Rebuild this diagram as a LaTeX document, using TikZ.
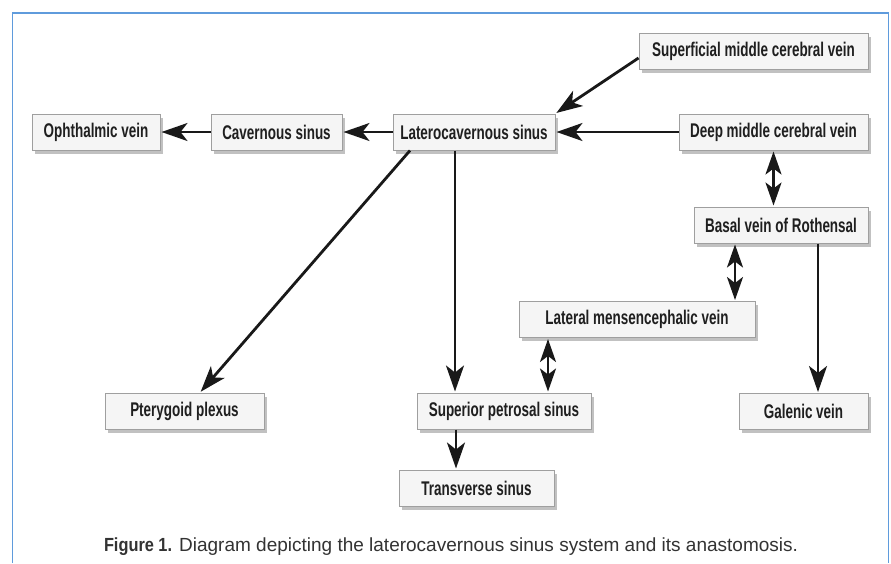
\documentclass[tikz,border=0pt]{standalone}
\usepackage{fontspec}
\setmainfont{Liberation Sans}
\newfontfamily\boxfont{Liberation Sans}[FakeStretch=0.68]
\newfontfamily\capbold{Liberation Sans}[FakeStretch=0.86]
\usetikzlibrary{arrows.meta,shadows,calc}
\definecolor{frameblue}{RGB}{95,155,220}
\tikzset{
  vbox/.style={draw=gray!75, line width=1pt, inner sep=0pt,
    left color=gray!8, middle color=gray!40, right color=gray!8,
    minimum height=36pt, text=black!88,
    font=\boxfont\bfseries\fontsize{19.8}{22}\selectfont,
    drop shadow={shadow xshift=3pt, shadow yshift=-3.5pt, fill=gray!80, opacity=0.6}},
  flow/.style={line width=2.8pt, draw=black!90,
    -{Stealth[length=26pt,width=18pt,inset=7pt]}},
  both/.style={line width=2.6pt, draw=black!90,
    {Stealth[length=23pt,width=16pt,inset=6pt]}-{Stealth[length=23pt,width=16pt,inset=6pt]}}
}
\begin{document}
\begin{tikzpicture}[x=1pt,y=-1pt]
\useasboundingbox (0,0) rectangle (891,563);
\fill[white] (0,0) rectangle (891,563);
\draw[frameblue, line width=1.4pt] (12.5,563) -- (12.5,13) -- (888.5,13) -- (888.5,563);

\node[vbox, minimum width=128pt] (oph) at (96,132) {Ophthalmic vein};
\node[vbox, minimum width=131pt] (cav) at (276.5,132) {Cavernous sinus};
\node[vbox, minimum width=162pt] (lat) at (474,132) {Laterocavernous sinus};
\node[vbox, minimum width=229pt] (smcv) at (753.5,51) {Superficial middle cerebral vein};
\node[vbox, minimum width=189pt] (dmcv) at (773.5,132) {Deep middle cerebral vein};
\node[vbox, minimum width=174pt] (basal) at (781,225) {Basal vein of Rothensal};
\node[vbox, minimum width=236pt] (lmv) at (637,319.5) {Lateral mensencephalic vein};
\node[vbox, minimum width=174pt] (sps) at (504,411) {Superior petrosal sinus};
\node[vbox, minimum width=155pt] (trans) at (476.5,488) {Transverse sinus};
\node[vbox, minimum width=159pt] (ptery) at (184.5,411) {Pterygoid plexus};
\node[vbox, minimum width=129pt] (gal) at (803.5,411.5) {Galenic vein};

\node[text=black!80, font=\fontsize{19}{22}\selectfont] (cap) at (451,547)
  {{\capbold\bfseries Figure 1.} Diagram depicting the laterocavernous sinus system and its anastomosis.};

\draw[flow, shorten >=1pt] (cav.west) -- (oph.east);
\draw[flow, shorten >=1pt] (lat.west) -- (cav.east);
\draw[flow, shorten >=1pt] (dmcv.west) -- (lat.east);
\draw[flow, shorten >=1pt] ([yshift=-7pt]smcv.west) -- (lat.north east);
\draw[flow, shorten >=1pt] ([xshift=-64pt]lat.south) -- ([xshift=15.5pt]ptery.north);
\draw[flow, shorten >=1pt] ([xshift=-19pt]lat.south) -- ([xshift=-19pt]lat.south |- sps.north);
\draw[flow, shorten >=1pt] ([xshift=-48pt]sps.south) -- ([xshift=-48pt]sps.south |- trans.north);
\draw[flow, shorten >=1pt] ([xshift=37pt]basal.south) -- ([xshift=37pt]basal.south |- gal.north);
\draw[both, shorten >=1pt, shorten <=1pt] (dmcv.south) -- (dmcv.south |- basal.north);
\draw[both, shorten >=1pt, shorten <=1pt] ([xshift=-46pt]basal.south) -- ([xshift=-46pt]basal.south |- lmv.north);
\draw[both, shorten >=1pt, shorten <=1pt] ([xshift=-89pt]lmv.south) -- ([xshift=-89pt]lmv.south |- sps.north);
\end{tikzpicture}
\end{document}
